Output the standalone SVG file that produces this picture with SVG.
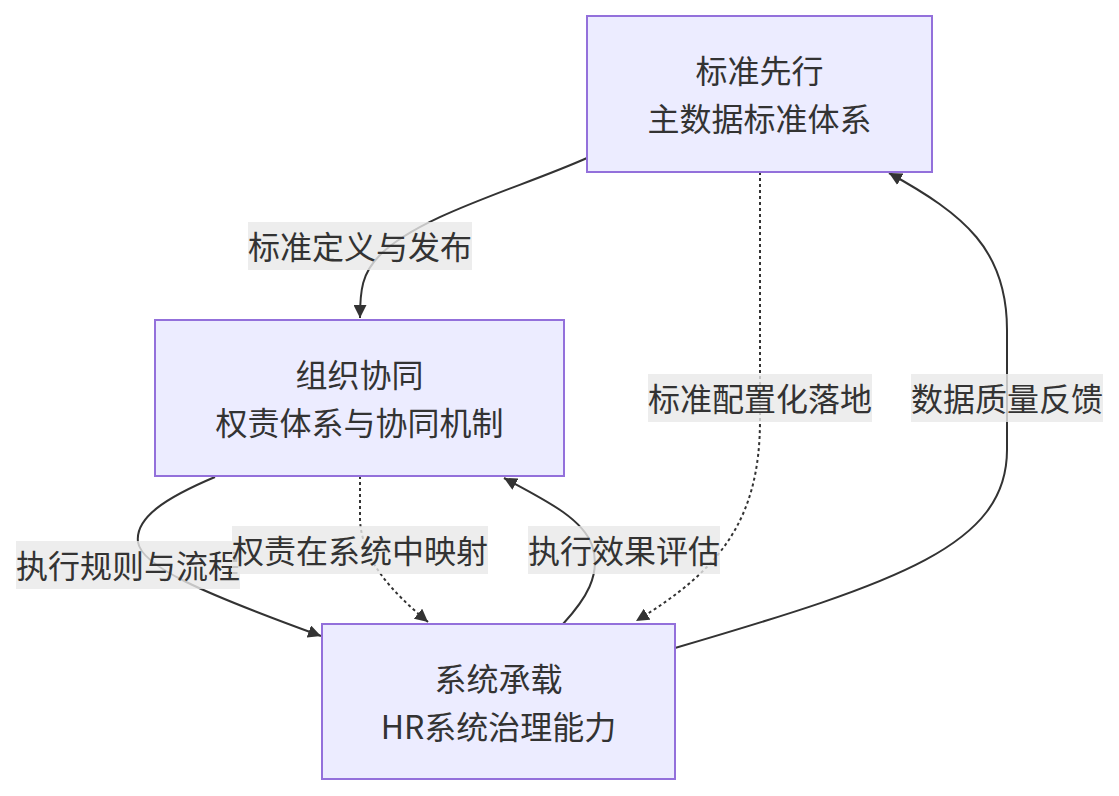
<svg xmlns="http://www.w3.org/2000/svg" width="1119" height="796" viewBox="0 0 1119 796">
<style>
.node rect{fill:#ECECFF;stroke:#9370DB;stroke-width:2}
.node text,.lbl text{font-family:"Noto Sans CJK SC","Noto Sans",sans-serif;font-size:32px;fill:#333;text-anchor:middle;dominant-baseline:central}
.edge{fill:none;stroke:#333;stroke-width:2}
.dot{stroke-dasharray:3 3}
.lbl rect{fill:rgba(232,232,232,0.8)}
</style>
<defs>
<marker id="arr" viewBox="0 0 10 10" refX="10" refY="5" markerUnits="userSpaceOnUse" markerWidth="13" markerHeight="13" orient="auto">
<path d="M0,0 L10,5 L0,10 z" fill="#333"/>
</marker>
</defs>
<g id="connectors">
<path class="edge" d="M587,158 C520,188 420,215 380,255 C362,273 360,290 360,318" marker-end="url(#arr)"/>
<path class="edge dot" d="M760,172 L760,420 C760,520 720,570 636,621" marker-end="url(#arr)"/>
<path class="edge" d="M675,648 C900,582 1007,545 1007,450 L1007,330 C1007,250 965,215 889,173" marker-end="url(#arr)"/>
<path class="edge" d="M215,477 C165,498 135,518 138,542 C141,566 200,592 321,636" marker-end="url(#arr)"/>
<path class="edge dot" d="M360,476 L360,520 C362,560 392,592 428,622" marker-end="url(#arr)"/>
<path class="edge" d="M563,624 C585,600 602,575 592,545 C582,518 545,500 504,478" marker-end="url(#arr)"/>
</g>
<g id="edge-labels">
<g class="lbl"><rect x="248" y="222" width="224" height="48"/><text x="360" y="245">标准定义与发布</text></g>
<g class="lbl"><rect x="648" y="374" width="224" height="48"/><text x="760" y="397">标准配置化落地</text></g>
<g class="lbl"><rect x="911" y="374" width="192" height="48"/><text x="1007" y="397">数据质量反馈</text></g>
<g class="lbl"><rect x="16" y="541" width="224" height="48"/><text x="128" y="564">执行规则与流程</text></g>
<g class="lbl"><rect x="232" y="526" width="256" height="48"/><text x="360" y="549">权责在系统中映射</text></g>
<g class="lbl"><rect x="528" y="526" width="192" height="48"/><text x="624" y="549">执行效果评估</text></g>
</g>
<g id="nodeA" class="node"><rect x="587" y="16" width="345" height="156"/><text x="759.5" y="69">标准先行</text><text x="759.5" y="117">主数据标准体系</text></g>
<g id="nodeB" class="node"><rect x="155" y="320" width="409" height="156"/><text x="359.5" y="373">组织协同</text><text x="359.5" y="421">权责体系与协同机制</text></g>
<g id="nodeC" class="node"><rect x="322" y="624" width="353" height="155"/><text x="498.5" y="677">系统承载</text><text x="498.5" y="725">HR系统治理能力</text></g>
</svg>
